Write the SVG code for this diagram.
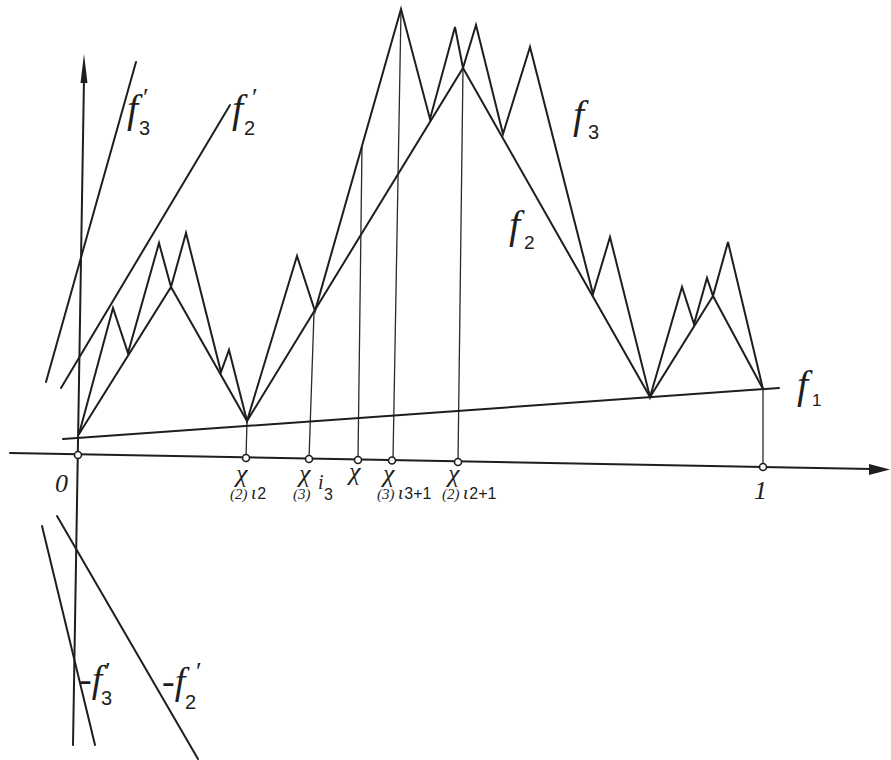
<svg xmlns="http://www.w3.org/2000/svg" width="891" height="760" viewBox="0 0 891 760">
<style>
.ln{fill:none;stroke:#1e1e1e;stroke-width:2;stroke-linejoin:miter;stroke-linecap:round}
.th{fill:none;stroke:#2a2a2a;stroke-width:1.3}
.pt{fill:#fff;stroke:#1e1e1e;stroke-width:1.6}
.f{font-family:"Liberation Serif",serif;font-style:italic;fill:#1e1e1e}
.s{font-family:"Liberation Sans",sans-serif;fill:#1e1e1e}
.pr{font-family:"Liberation Serif",serif;fill:#1e1e1e;font-size:26px}
</style>
<rect width="891" height="760" fill="#fff"/>
<g id="axes">
<line class="ln" x1="84" y1="78" x2="73" y2="745"/>
<polygon points="84,54 80.5,83 87.5,83" fill="#1e1e1e"/>
<line class="ln" x1="10" y1="453" x2="872" y2="469"/>
<polygon points="890,469.5 869,464 869,475" fill="#1e1e1e"/>
</g>
<g id="connectors">
<line class="th" x1="247" y1="421" x2="246" y2="458"/>
<line class="th" x1="314" y1="313" x2="309" y2="459"/>
<line class="th" x1="362" y1="147" x2="358" y2="460"/>
<line class="th" x1="401" y1="10" x2="393" y2="460"/>
<line class="th" x1="463" y1="68" x2="458" y2="462"/>
<line class="th" x1="763" y1="389" x2="763" y2="467"/>
</g>
<g id="f1">
<line class="ln" x1="63" y1="439" x2="779" y2="388"/>
<text class="f" x="797" y="398" font-size="40">f</text>
<text class="s" x="812" y="406" font-size="17">1</text>
</g>
<g id="f2">
<polyline class="ln" points="79,434 171,287 247,421 463,68 650,397 713,296 763,389"/>
<text class="f" x="509" y="238" font-size="40">f</text>
<text class="s" x="524" y="249" font-size="19">2</text>
</g>
<g id="f3">
<polyline class="ln" points="79,434 113,308 128,353 159,243 171,287 186,233 221,372 229,350 247,421 297,256 315,311 401,9 430,119 455,27 463,68 476,25 503,134 530,47 593,294 610,237 650,397 682,287 694,324 707,278 713,296 728,242 763,389"/>
<text class="f" x="573" y="128" font-size="40">f</text>
<text class="s" x="588" y="139" font-size="20">3</text>
</g>
<g id="f3prime">
<line class="ln" x1="46" y1="382" x2="136" y2="62"/>
<text class="f" x="127" y="122" font-size="40">f</text>
<text class="pr" x="143" y="106">′</text>
<text class="s" x="139" y="135" font-size="20">3</text>
</g>
<g id="f2prime">
<line class="ln" x1="61" y1="388" x2="230" y2="105"/>
<text class="f" x="232" y="122" font-size="40">f</text>
<text class="pr" x="252" y="106">′</text>
<text class="s" x="244" y="135" font-size="20">2</text>
</g>
<g id="neg-f3prime">
<line class="ln" x1="42" y1="526" x2="95" y2="745"/>
<text class="f" x="79" y="692" font-size="38">-f</text>
<text class="pr" x="105" y="680">′</text>
<text class="s" x="101" y="705" font-size="20">3</text>
</g>
<g id="neg-f2prime">
<line class="ln" x1="57" y1="516" x2="198" y2="759"/>
<text class="f" x="162" y="694" font-size="38">-f</text>
<text class="pr" x="196" y="680">′</text>
<text class="s" x="185" y="709" font-size="20">2</text>
</g>
<g id="points">
<circle class="pt" cx="78" cy="455" r="3.5"/>
<circle class="pt" cx="246" cy="458" r="3.5"/>
<circle class="pt" cx="309" cy="459" r="3.5"/>
<circle class="pt" cx="358" cy="460" r="3.5"/>
<circle class="pt" cx="392" cy="460.5" r="3.5"/>
<circle class="pt" cx="458" cy="462" r="3.5"/>
<circle class="pt" cx="763" cy="467" r="3.5"/>
</g>
<g id="labels">
<text class="f" x="55" y="492" font-size="26">0</text>
<text class="f" x="754" y="499" font-size="26">1</text>
<text class="f" x="236" y="482" font-size="26">χ</text>
<text class="f" x="230" y="499" font-size="15">(2)</text>
<text class="f" x="251" y="499" font-size="19">ι<tspan class="s" font-style="normal" font-size="16" dx="1">2</tspan></text>
<text class="f" x="299" y="482" font-size="26">χ</text>
<text class="f" x="293" y="499" font-size="15">(3)</text>
<text class="f" x="318" y="489" font-size="20">i</text>
<text class="s" x="324" y="500" font-size="16">3</text>
<text class="f" x="349" y="480" font-size="26">χ</text>
<text class="f" x="383" y="482" font-size="26">χ</text>
<text class="f" x="377" y="499" font-size="15">(3)</text>
<text class="f" x="398" y="499" font-size="19">ι<tspan class="s" font-style="normal" font-size="16" dx="1">3+1</tspan></text>
<text class="f" x="448" y="482" font-size="26">χ</text>
<text class="f" x="442" y="499" font-size="15">(2)</text>
<text class="f" x="463" y="499" font-size="19">ι<tspan class="s" font-style="normal" font-size="16" dx="1">2+1</tspan></text>
</g>
</svg>
